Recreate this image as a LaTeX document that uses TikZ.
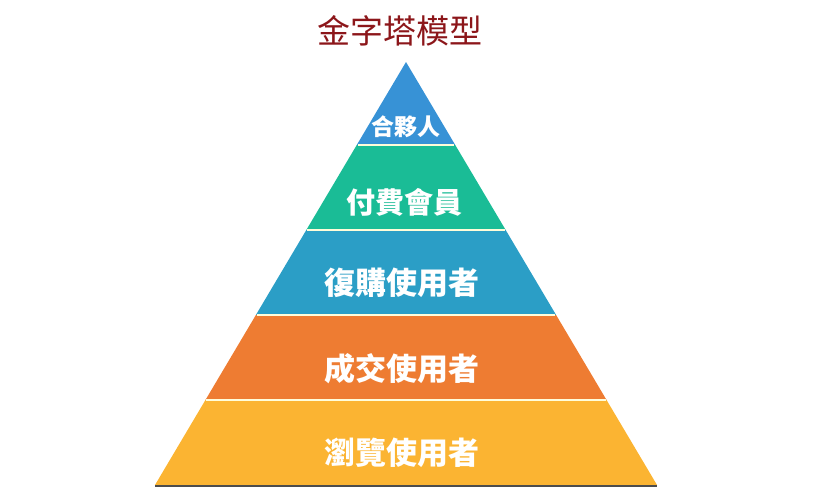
\documentclass[tikz,border=0pt]{standalone}
\usepackage{fontspec}
\newfontfamily\cjk{Noto Sans CJK TC}
\usepackage{tikz}
\usetikzlibrary{calc}
\definecolor{layblue}{RGB}{55,146,214}
\definecolor{laygreen}{RGB}{26,188,150}
\definecolor{layteal}{RGB}{43,158,198}
\definecolor{layorange}{RGB}{238,124,50}
\definecolor{layyellow}{RGB}{251,180,50}
\definecolor{titlered}{RGB}{140,22,26}

\begin{document}
\begin{tikzpicture}[
  x=1pt, y=-1pt,
  label/.style={text=white, inner sep=0pt, font=\cjk\bfseries},
  sep/.style={draw=white!85!yellow, line width=1.3pt}
]
\useasboundingbox (0,0) rectangle (828,501);
\coordinate (apex) at (406,62);

% layers, top to bottom
\foreach \ya/\yb/\col in {62/145/layblue, 145/230/laygreen, 230/315/layteal, 315/400/layorange, 400/485/layyellow}{
  \fill[\col] ({406-(\ya-62)*0.5934},\ya) -- ({406+(\ya-62)*0.5934},\ya)
    -- ({406+(\yb-62)*0.5934},\yb) -- ({406-(\yb-62)*0.5934},\yb) -- cycle;
}
\foreach \y in {145,230,315,400}{
  \draw[sep] ({406-(\y-62)*0.5934+1},\y) -- ({406+(\y-62)*0.5934-1},\y);
}
\coordinate (baseL) at (155,486);
\coordinate (baseR) at (657,486);
\draw[black!70, line width=1.4pt] (baseL) -- (baseR);

\node[text=titlered, inner sep=0pt, font=\cjk\fontsize{33}{33}\selectfont] (title) at (400,31) {金字塔模型};
\node[label, font=\cjk\bfseries\fontsize{23}{23}\selectfont] (partner) at (406,127) {合夥人};
\node[label, font=\cjk\bfseries\fontsize{29}{29}\selectfont] (member) at (404,202) {付費會員};
\node[label, font=\cjk\bfseries\fontsize{31}{31}\selectfont] (repeat) at (402,283) {復購使用者};
\node[label, font=\cjk\bfseries\fontsize{31}{31}\selectfont] (deal) at (402,369) {成交使用者};
\node[label, font=\cjk\bfseries\fontsize{31}{31}\selectfont] (browse) at (402,453) {瀏覽使用者};
\end{tikzpicture}
\end{document}
